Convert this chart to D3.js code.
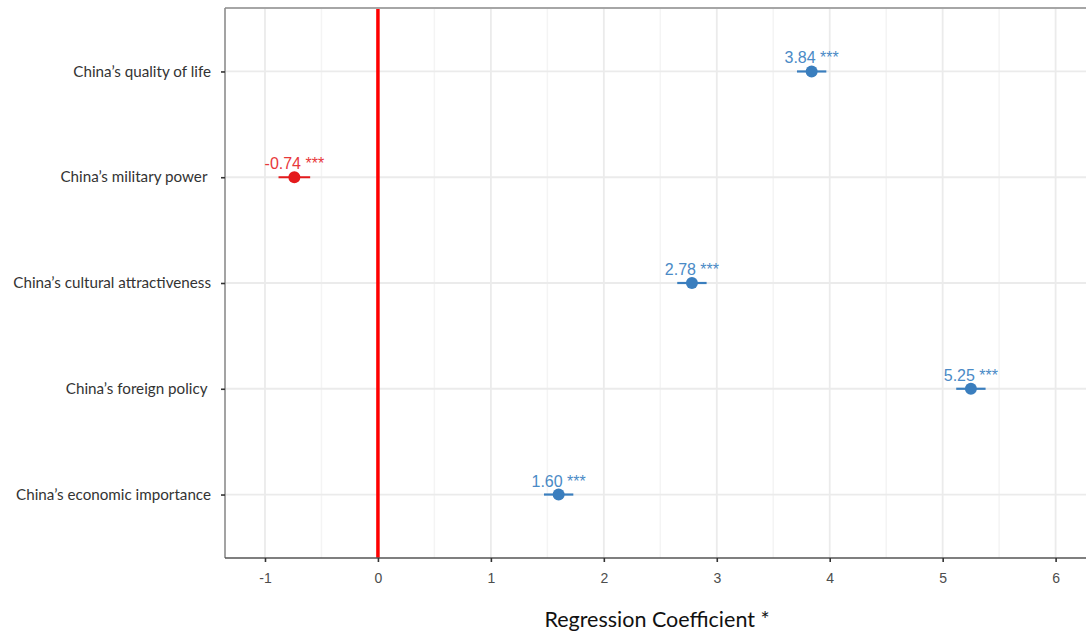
<!DOCTYPE html>
<html>
<head>
<meta charset="utf-8">
<script src="https://cdn.jsdelivr.net/npm/d3@7"></script>
<style>
  html, body { margin: 0; padding: 0; background: #fff; }
  svg { display: block; }
</style>
</head>
<body>
<svg id="chart" width="1086" height="633"></svg>
<script>
// Regression coefficients with confidence intervals, top to bottom
const predictors = [
  "China\u2019s quality of life",
  "China\u2019s military power ",
  "China\u2019s cultural attractiveness",
  "China\u2019s foreign policy ",
  "China\u2019s economic importance"
];
const estimates = [3.84, -0.74, 2.78, 5.25, 1.60];
const lowerCI   = [3.71, -0.88, 2.65, 5.12, 1.47];
const upperCI   = [3.97, -0.60, 2.91, 5.38, 1.73];
const stars     = ["***", "***", "***", "***", "***"];
const xTicks    = [-1, 0, 1, 2, 3, 4, 5, 6];

const rows = predictors.map((p, i) => ({
  name: p, est: estimates[i], lo: lowerCI[i], hi: upperCI[i], sig: stars[i]
}));

const svg = d3.select("#chart");
const panel = { left: 225, top: 8, right: 1100, bottom: 558 };

const x = d3.scaleLinear()
  .domain([-1.354, 6.393])
  .range([panel.left, panel.right]);

const y = d3.scalePoint()
  .domain(predictors)
  .range([panel.top, panel.bottom])
  .padding(0.6);

const blue = "#3A7EBE";
const red = "#E41A1C";
const colorOf = d => d.est < 0 ? red : blue;

const g = svg.append("g");

// minor vertical grid at half units
const minor = d3.range(-1.5, 6.6, 1).filter(v => x(v) > panel.left);
g.selectAll("line.minor").data(minor).join("line")
  .attr("x1", d => x(d)).attr("x2", d => x(d))
  .attr("y1", panel.top).attr("y2", panel.bottom)
  .attr("stroke", "#F4F4F4").attr("stroke-width", 1.5);

// major vertical grid
g.selectAll("line.major").data(xTicks).join("line")
  .attr("x1", d => x(d)).attr("x2", d => x(d))
  .attr("y1", panel.top).attr("y2", panel.bottom)
  .attr("stroke", "#EBEBEB").attr("stroke-width", 1.8);

// horizontal grid through each predictor
g.selectAll("line.hgrid").data(predictors).join("line")
  .attr("x1", panel.left).attr("x2", panel.right)
  .attr("y1", d => y(d)).attr("y2", d => y(d))
  .attr("stroke", "#EBEBEB").attr("stroke-width", 1.8);

// reference line at zero
g.append("line")
  .attr("x1", x(0)).attr("x2", x(0))
  .attr("y1", panel.top).attr("y2", panel.bottom)
  .attr("stroke", "#FF0000").attr("stroke-width", 3.5);

// panel border
g.append("line")
  .attr("x1", panel.left).attr("x2", panel.right)
  .attr("y1", panel.top).attr("y2", panel.top)
  .attr("stroke", "#A6A6A6").attr("stroke-width", 2);
g.append("line")
  .attr("x1", panel.left).attr("x2", panel.left)
  .attr("y1", panel.top).attr("y2", panel.bottom)
  .attr("stroke", "#8C8C8C").attr("stroke-width", 1.6);

// x axis
const xAxis = d3.axisBottom(x).tickValues(xTicks).tickSize(4).tickPadding(11)
  .tickFormat(d => String(d));
const ax = svg.append("g")
  .attr("transform", `translate(0,${panel.bottom})`)
  .call(xAxis);
ax.select(".domain")
  .attr("d", `M${panel.left},0H${panel.right}`)
  .attr("stroke", "#555").attr("stroke-width", 1.6);
ax.selectAll(".tick line").attr("stroke", "#333").attr("stroke-width", 1.6);
ax.selectAll(".tick text")
  .attr("fill", "#4D4D4D")
  .style("font-family", "'Liberation Sans', Arial, sans-serif")
  .style("font-size", "14px");

// y axis
const yAxis = d3.axisLeft(y).tickSize(4).tickPadding(10);
const ay = svg.append("g")
  .attr("transform", `translate(${panel.left},0)`)
  .call(yAxis);
ay.select(".domain").remove();
ay.selectAll(".tick line").attr("stroke", "#333").attr("stroke-width", 1.6);
ay.selectAll(".tick text")
  .attr("fill", "#333")
  .attr("dy", "0.3em")
  .style("font-family", "Lato, 'Open Sans', sans-serif")
  .style("font-size", "15.2px")
  .style("white-space", "pre");

// confidence intervals
g.selectAll("line.ci").data(rows).join("line")
  .attr("x1", d => x(d.lo)).attr("x2", d => x(d.hi))
  .attr("y1", d => y(d.name)).attr("y2", d => y(d.name))
  .attr("stroke", colorOf).attr("stroke-width", 2.2);

// point estimates
g.selectAll("circle.pt").data(rows).join("circle")
  .attr("cx", d => x(d.est)).attr("cy", d => y(d.name))
  .attr("r", 6)
  .attr("fill", colorOf);

// value labels
g.selectAll("text.val").data(rows).join("text")
  .attr("x", d => x(d.est)).attr("y", d => y(d.name) - 8)
  .attr("text-anchor", "middle")
  .attr("fill", d => d.est < 0 ? "#E8383A" : "#4A8AC6")
  .style("font-family", "'Liberation Sans', Arial, sans-serif")
  .style("font-size", "16px")
  .text(d => `${d.est.toFixed(2)} ${d.sig}`);

// x axis title
svg.append("text")
  .attr("x", 657).attr("y", 627)
  .attr("text-anchor", "middle")
  .attr("fill", "#111")
  .style("font-family", "Lato, 'Open Sans', sans-serif")
  .style("font-size", "21.5px")
  .text("Regression Coefficient *");
</script>
</body>
</html>
